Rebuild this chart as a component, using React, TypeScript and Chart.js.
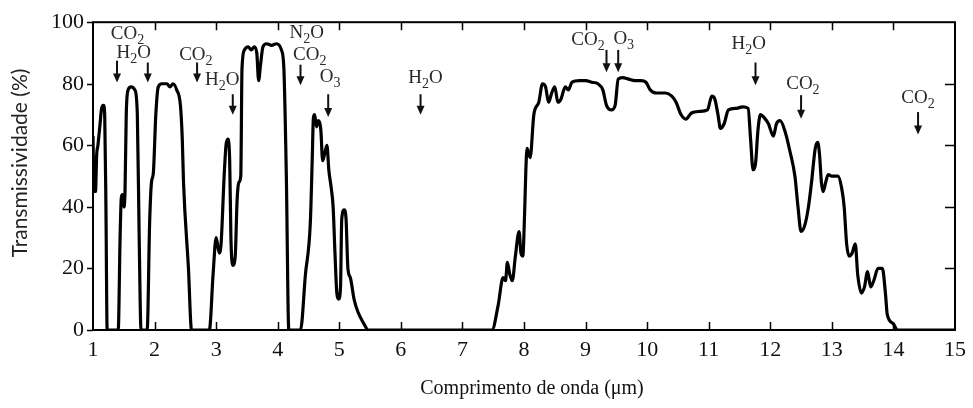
import React, { useEffect, useRef } from "react";
import { Chart, registerables } from "chart.js";

Chart.register(...registerables);

// Wavelength (µm) and transmissivity (%)
const wavelength = [
  1.0, 1.01, 1.02, 1.04, 1.06, 1.08, 1.11, 1.14, 1.17, 1.19, 1.21, 1.23,
  1.41, 1.44, 1.46, 1.48, 1.5, 1.52, 1.54, 1.57, 1.62, 1.68, 1.72, 1.75, 1.78,
  1.88, 1.92, 1.95, 1.98, 2.02, 2.06, 2.12, 2.2, 2.25, 2.3, 2.36, 2.42, 2.45, 2.47, 2.55, 2.6,
  2.89, 2.95, 3.0, 3.05, 3.08, 3.13, 3.16, 3.19, 3.22, 3.24, 3.27, 3.31, 3.34, 3.37, 3.4, 3.42,
  3.46, 3.52, 3.57, 3.62, 3.66, 3.69, 3.72, 3.76, 3.82, 3.9, 3.98, 4.06, 4.1, 4.14, 4.18,
  4.37, 4.45, 4.53, 4.56, 4.58, 4.6, 4.63, 4.66, 4.7, 4.73, 4.77, 4.8, 4.83, 4.87, 4.9, 4.93,
  4.96, 4.99, 5.02, 5.04, 5.08, 5.11, 5.14, 5.18, 5.24, 5.3, 5.4, 5.47,
  7.48, 7.58, 7.66, 7.7, 7.73, 7.77, 7.81, 7.86, 7.92, 7.95, 7.98, 8.01, 8.03, 8.05, 8.08, 8.1,
  8.16, 8.24, 8.3, 8.35, 8.4, 8.45, 8.5, 8.55, 8.6, 8.67, 8.72, 8.78, 8.9, 9.0, 9.1, 9.2, 9.28,
  9.34, 9.42, 9.48, 9.53, 9.6, 9.7, 9.8, 9.9, 9.98, 10.05, 10.15, 10.3, 10.4, 10.47, 10.55,
  10.63, 10.72, 10.85, 10.98, 11.05, 11.1, 11.15, 11.19, 11.25, 11.32, 11.45, 11.55, 11.64,
  11.68, 11.72, 11.76, 11.8, 11.84, 11.9, 11.97, 12.05, 12.1, 12.16, 12.24, 12.32, 12.4, 12.45,
  12.5, 12.56, 12.62, 12.67, 12.73, 12.77, 12.8, 12.83, 12.86, 12.9, 12.94, 13.0, 13.1, 13.16,
  13.2, 13.24, 13.28, 13.33, 13.38, 13.42, 13.48, 13.53, 13.58, 13.63, 13.68, 13.75, 13.82,
  13.87, 13.9, 14.0, 14.06, 15.0,
];
const transmissivity = [
  63, 50, 46, 45, 57, 60, 66, 72, 73, 70, 40, 0,
  0, 30, 43, 44, 40, 45, 70, 78, 79, 78, 70, 30, 0,
  0, 35, 48, 51, 70, 79, 80, 80, 79, 80, 78, 73, 62, 48, 20, 0,
  0, 18, 30, 25, 28, 50, 60, 62, 55, 30, 21, 24, 42, 48, 50, 85,
  91, 92, 91, 92, 90, 81, 86, 92, 93, 92.5, 93, 91, 85, 50, 0,
  0, 18, 35, 55, 69, 70, 66, 68, 65, 55, 58, 60, 52, 46, 40, 25,
  12, 10, 14, 36, 39, 36, 20, 17, 10, 6, 2, 0,
  0, 8, 17, 16, 22, 18, 16, 24, 32, 25, 24, 38, 52, 59, 57, 56,
  70, 74, 80, 79, 74, 77, 79, 74, 75, 79, 78, 80.5, 81, 81, 80.5, 80, 78,
  73, 71.5, 73, 81.5, 82, 81.5, 81, 81, 80.5, 78, 77, 77, 76, 74, 70,
  68.5, 70.5, 71, 71.5, 76, 75, 70, 65.5, 67, 71.5, 72, 72.5, 72,
  62, 52, 54, 65, 70, 69, 67, 63, 67, 68, 64.5, 58, 50, 40,
  32, 34, 40, 48, 59, 61, 57, 48, 45, 48, 50.5, 50, 50, 46,
  40, 28, 24, 25, 28, 18, 12, 14, 19, 14, 16, 20, 20,
  12, 5, 2, 0, 0,
];

const xTicks = [1, 2, 3, 4, 5, 6, 7, 8, 9, 10, 11, 12, 13, 14, 15];
const yTicks = [0, 20, 40, 60, 80, 100];

// Gas labels (digits drawn as subscripts), positioned in data units
const gasLabels = ["CO2", "H2O", "CO2", "H2O", "N2O", "CO2", "O3", "H2O", "CO2", "O3", "H2O", "CO2", "CO2"];
const gasLabelX = [1.56, 1.66, 2.67, 3.1, 4.47, 4.52, 4.85, 6.4, 9.04, 9.62, 11.65, 12.53, 14.4];
const gasLabelY = [94.4, 88.3, 87.6, 79.6, 95.0, 87.6, 80.6, 80.4, 92.6, 93.0, 91.2, 78.3, 73.6];

// Absorption arrows
const arrowX = [1.39, 1.89, 2.69, 3.27, 4.37, 4.82, 6.32, 9.34, 9.53, 11.76, 12.5, 14.4];
const arrowTop = [87.5, 86.9, 86.9, 76.6, 86.2, 76.6, 76.6, 91.0, 91.0, 86.9, 76.3, 70.8];
const arrowBottom = [80.4, 80.4, 80.4, 69.9, 79.5, 69.2, 69.9, 83.7, 83.7, 79.5, 68.6, 63.5];

const xTitle = "Comprimento de onda (μm)";
const yTitle = "Transmissividade (%)";

const SERIF = '"Liberation Serif", "Times New Roman", serif';
const SANS = 'Lato, "Open Sans", sans-serif';

function drawFormula(ctx: CanvasRenderingContext2D, text: string, cx: number, baseY: number) {
  const main = `19px ${SERIF}`;
  const sub = `14px ${SERIF}`;
  const parts: { t: string; s: boolean }[] = [];
  for (const ch of text) {
    const s = /[0-9]/.test(ch);
    if (parts.length && parts[parts.length - 1].s === s) parts[parts.length - 1].t += ch;
    else parts.push({ t: ch, s });
  }
  let total = 0;
  for (const p of parts) {
    ctx.font = p.s ? sub : main;
    total += ctx.measureText(p.t).width;
  }
  let x = cx - total / 2;
  ctx.textAlign = "left";
  ctx.textBaseline = "alphabetic";
  for (const p of parts) {
    ctx.font = p.s ? sub : main;
    ctx.fillText(p.t, x, p.s ? baseY + 5 : baseY);
    x += ctx.measureText(p.t).width;
  }
}

const decorPlugin = {
  id: "decor",
  afterDatasetsDraw(chart: any) {
    const { ctx, chartArea: a, scales } = chart;
    const x = scales.x;
    const y = scales.y;
    ctx.save();
    ctx.strokeStyle = "#000";
    ctx.lineWidth = 2;
    ctx.strokeRect(a.left, a.top, a.right - a.left, a.bottom - a.top);
    ctx.lineWidth = 1.5;
    ctx.beginPath();
    for (const v of xTicks) {
      if (v === xTicks[0] || v === xTicks[xTicks.length - 1]) continue;
      const px = Math.round(x.getPixelForValue(v)) + 0.5;
      ctx.moveTo(px, a.bottom);
      ctx.lineTo(px, a.bottom - 8);
      ctx.moveTo(px, a.top);
      ctx.lineTo(px, a.top + 8);
    }
    for (const v of yTicks) {
      const py = Math.round(y.getPixelForValue(v)) + 0.5;
      ctx.moveTo(a.left, py);
      ctx.lineTo(a.left - 6, py);
      if (v > yTicks[0] && v < yTicks[yTicks.length - 1]) {
        ctx.moveTo(a.right, py);
        ctx.lineTo(a.right - 10, py);
      }
    }
    ctx.stroke();

    // arrows
    ctx.fillStyle = "#111";
    ctx.strokeStyle = "#111";
    ctx.lineWidth = 2;
    arrowX.forEach((v, i) => {
      const px = x.getPixelForValue(v);
      const t = y.getPixelForValue(arrowTop[i]);
      const b = y.getPixelForValue(arrowBottom[i]);
      ctx.beginPath();
      ctx.moveTo(px, t);
      ctx.lineTo(px, b - 6);
      ctx.stroke();
      ctx.beginPath();
      ctx.moveTo(px - 4, b - 9);
      ctx.lineTo(px + 4, b - 9);
      ctx.lineTo(px, b);
      ctx.closePath();
      ctx.fill();
    });

    // gas labels
    ctx.fillStyle = "#2a2a2a";
    gasLabels.forEach((lab, i) => {
      drawFormula(ctx, lab, x.getPixelForValue(gasLabelX[i]), y.getPixelForValue(gasLabelY[i]));
    });

    // axis titles
    ctx.fillStyle = "#111";
    ctx.font = `20px ${SERIF}`;
    ctx.textAlign = "center";
    ctx.textBaseline = "alphabetic";
    ctx.fillText(xTitle, (x.left + x.right) / 2 + 8, 394);

    ctx.save();
    ctx.translate(27, 163);
    ctx.rotate(-Math.PI / 2);
    ctx.font = `21px ${SANS}`;
    ctx.fillStyle = "#222";
    ctx.textAlign = "center";
    ctx.fillText(yTitle, 0, 0);
    ctx.restore();

    ctx.restore();
  },
};

export default function App() {
  const ref = useRef<HTMLCanvasElement | null>(null);
  useEffect(() => {
    if (!ref.current) return;
    const chart = new Chart(ref.current, {
      type: "line",
      data: {
        datasets: [
          {
            data: wavelength.map((w, i) => ({ x: w, y: transmissivity[i] })),
            borderColor: "#000",
            borderWidth: 3.2,
            pointRadius: 0,
            fill: false,
            cubicInterpolationMode: "monotone",
          },
        ],
      },
      options: {
        animation: false,
        responsive: false,
        devicePixelRatio: 1,
        layout: { padding: { top: 19, right: 13, left: 0, bottom: 0 } },
        plugins: { legend: { display: false }, tooltip: { enabled: false } },
        scales: {
          x: {
            type: "linear",
            min: 1,
            max: 15,
            afterFit: (s: any) => {
              s.height = 78;
            },
            afterBuildTicks: (s: any) => {
              s.ticks = xTicks.map((v) => ({ value: v }));
            },
            ticks: {
              color: "#111",
              font: { family: SERIF, size: 22 },
              padding: 7,
              maxRotation: 0,
              autoSkip: false,
            },
            grid: { display: false, drawTicks: false },
            border: { display: false },
          },
          y: {
            min: 0,
            max: 100,
            afterFit: (s: any) => {
              s.width = 93;
            },
            afterBuildTicks: (s: any) => {
              s.ticks = yTicks.map((v) => ({ value: v }));
            },
            ticks: {
              color: "#111",
              font: { family: SERIF, size: 22 },
              padding: 9,
            },
            grid: { display: false, drawTicks: false },
            border: { display: false },
          },
        },
      },
      plugins: [decorPlugin],
    } as any);
    return () => chart.destroy();
  }, []);
  return (
    <div style={{ position: "absolute", left: 0, top: 0, width: 973, height: 408, background: "#fff" }}>
      <canvas ref={ref} width={973} height={408} />
    </div>
  );
}
